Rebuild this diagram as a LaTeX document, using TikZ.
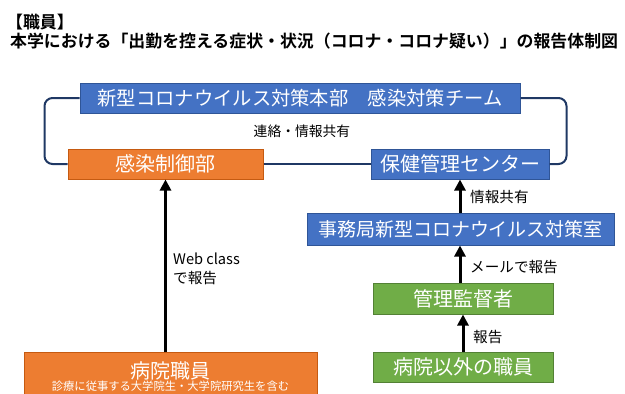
\documentclass[tikz,border=0pt]{standalone}
\usepackage{fontspec}
\setmainfont{Noto Sans CJK JP}[BoldFont={Noto Sans CJK JP Bold}]
\usetikzlibrary{arrows.meta}
\definecolor{bfill}{HTML}{4472C4}
\definecolor{bdraw}{HTML}{2F5597}
\definecolor{ofill}{HTML}{ED7D31}
\definecolor{odraw}{HTML}{C55A11}
\definecolor{gfill}{HTML}{70AD47}
\definecolor{gdraw}{HTML}{538135}
\definecolor{navy}{HTML}{1F3864}
\begin{document}
\begin{tikzpicture}[x=1pt,y=-1pt,
  boxbase/.style={rectangle,inner sep=0pt,text=white,line width=1pt,font=\fontsize{20}{24}\selectfont},
  bluebox/.style={boxbase,fill=bfill,draw=bdraw},
  orangebox/.style={boxbase,fill=ofill,draw=odraw},
  greenbox/.style={boxbase,fill=gfill,draw=gdraw},
  lbl/.style={inner sep=0pt,text=black,font=\fontsize{14.6}{18}\selectfont},
  titletxt/.style={inner sep=0pt,anchor=west,font=\bfseries\fontsize{16.9}{20}\selectfont},
  conn/.style={draw=navy,line width=2pt,rounded corners=8pt},
  arr/.style={line width=3pt,-{Triangle[length=11pt,width=11pt]}}
]
\useasboundingbox (0,0) rectangle (625,394);

\node[titletxt] (t1) at (6,22.5) {【職員】};
\node[titletxt] (t2) at (10,41) {本学における「出勤を控える症状・状況（コロナ・コロナ疑い）」の報告体制図};

\node[bluebox,minimum width=440pt,minimum height=30pt,font=\fontsize{19.3}{23}\selectfont] (honbu) at (300,98) {新型コロナウイルス対策本部\hspace{1em}感染対策チーム};
\node[orangebox,minimum width=195pt,minimum height=30pt] (kansen) at (165.5,164) {感染制御部};
\node[bluebox,minimum width=178pt,minimum height=30pt] (hoken) at (460,164) {保健管理センター};
\node[bluebox,minimum width=307pt,minimum height=32pt,font=\fontsize{19}{23}\selectfont] (jimu) at (460.5,229) {事務局新型コロナウイルス対策室};
\node[greenbox,minimum width=180pt,minimum height=31pt] (kanri) at (463,298.5) {管理監督者};
\node[greenbox,minimum width=180pt,minimum height=30pt] (gai) at (463,367) {病院以外の職員};
\node[orangebox,minimum width=293pt,minimum height=50pt,anchor=north] (byoin) at (170.5,352) {};
\node[inner sep=0pt,text=white,font=\fontsize{20}{24}\selectfont] (byointext) at (170.5,371) {病院職員};
\node[inner sep=0pt,text=white,font=\fontsize{11.3}{13}\selectfont] (byoinsub) at (170.5,386.5) {診療に従事する大学院生・大学院研究生を含む};

\draw[conn] (honbu.west) -- ++(-35,0) |- (kansen.west);
\draw[conn] (honbu.east) -- ++(46,0) |- (hoken.east);
\draw[conn] (kansen.east) -- (hoken.west);

\node[lbl,font=\fontsize{13.8}{16}\selectfont] (renraku) at (302,131) {連絡・情報共有};

\draw[arr] (kansen.south |- byoin.north) -- (kansen.south);
\draw[arr] (jimu.north -| hoken.south) -- (hoken.south);
\draw[arr] (kanri.north -| hoken.south) -- (jimu.south -| hoken.south);
\draw[arr] (gai.north) -- (kanri.south);

\node[lbl,anchor=west] (webc) at (173,259) {Web class};
\node[lbl,anchor=west] (dehoukoku) at (173,278) {で報告};
\node[lbl,anchor=west] (joho) at (470,197) {情報共有};
\node[lbl,anchor=west] (mail) at (470,267) {メールで報告};
\node[lbl,anchor=west] (houkoku) at (473,337) {報告};
\end{tikzpicture}
\end{document}
